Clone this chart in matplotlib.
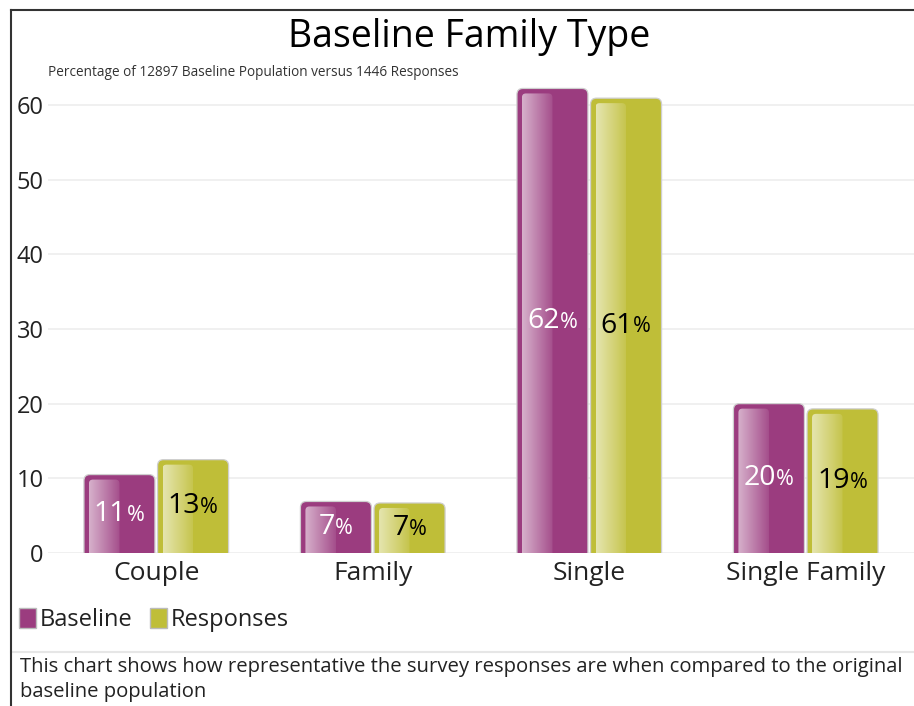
import numpy as np
import matplotlib
matplotlib.use("Agg")
import matplotlib.pyplot as plt
from matplotlib.patches import FancyBboxPatch, Patch
from matplotlib.lines import Line2D

plt.rcParams['font.family'] = ['Open Sans', 'DejaVu Sans']

# -- data ---------------------------------------------------------------
categories = ["Couple", "Family", "Single", "Single Family"]
baseline = [10.5, 6.9, 62.2, 20.0]
responses = [12.5, 6.7, 60.9, 19.3]
baseline_labels = ["11", "7", "62", "20"]
responses_labels = ["13", "7", "61", "19"]
yticks = [0, 10, 20, 30, 40, 50, 60]

title = "Baseline Family Type"
subtitle = "Percentage of 12897 Baseline Population versus 1446 Responses"
footnote_lines = ["This chart shows how representative the survey responses are when compared to the original",
                  "baseline population"]

# -- style --------------------------------------------------------------
W, H = 914, 706
C_BASE = "#9b3c7f"
C_RESP = "#bfbe38"
TXT = "#222222"
GRID = "#eeeeee"

fig = plt.figure(figsize=(W / 100, H / 100), dpi=100, facecolor="white")

ax_l, ax_b, ax_w, ax_h = 48, 153, 866, 478
ax = fig.add_axes([ax_l / W, ax_b / H, ax_w / W, ax_h / H])
XLIM = (-0.5, 3.5)
YLIM = (0, 64)
ax.set_xlim(*XLIM)
ax.set_ylim(*YLIM)

# pixels per data unit, used for rounded corners and highlight insets
xppu = ax_w / (XLIM[1] - XLIM[0])
yppu = ax_h / (YLIM[1] - YLIM[0])

x = np.arange(len(categories))
bw = 0.328
off = 0.17

bars_b = ax.bar(x - off, baseline, width=bw, color=C_BASE, alpha=0)
bars_r = ax.bar(x + off, responses, width=bw, color=C_RESP, alpha=0)


def glossy(rect, color):
    """Ердийн bar-ыг бөөрөнхий булантай, гэрэлтсэн bar болгоно."""
    bx, bwid, bh = rect.get_x(), rect.get_width(), rect.get_height()
    rx = 6 / xppu
    ry = 6 / yppu
    body = FancyBboxPatch((bx, -ry), bwid, bh + ry,
                          boxstyle=f"round,pad=0,rounding_size={rx}",
                          mutation_aspect=ry / rx,
                          facecolor=color, edgecolor="#cfcfcf", lw=0.9, zorder=2)
    ax.add_patch(body)

    # зүүн талын гэрэлтэлт
    hx0 = bx + 5 / xppu
    hx1 = bx + bwid * 0.5
    htop = bh - 5 / yppu
    hrx = 4 / xppu
    hry = 4 / yppu
    clip = FancyBboxPatch((hx0, -hry), hx1 - hx0, htop + hry,
                          boxstyle=f"round,pad=0,rounding_size={hrx}",
                          mutation_aspect=hry / hrx,
                          facecolor="none", edgecolor="none",
                          transform=ax.transData)
    ax.add_patch(clip)
    grad = np.zeros((1, 64, 4))
    grad[..., :3] = 1.0
    grad[0, :, 3] = np.linspace(0.6, 0.1, 64)
    img = ax.imshow(grad, extent=(hx0, hx1, -1, htop), aspect="auto",
                    interpolation="bilinear", zorder=3)
    img.set_clip_path(clip)


for rect in bars_b:
    glossy(rect, C_BASE)
for rect in bars_r:
    glossy(rect, C_RESP)

ax.set_xlim(*XLIM)
ax.set_ylim(*YLIM)


def value_label(rect, num, color):
    cx = rect.get_x() + rect.get_width() / 2
    cy = rect.get_height() / 2
    num_w = 16 * len(num)
    pct_w = 18
    shift = (num_w - pct_w) / 2 * 0.72
    ax.annotate(num, (cx, cy), xytext=(shift, 0), textcoords="offset points",
                ha="right", va="center", fontsize=20.5, color=color, zorder=5)
    ax.annotate("%", (cx, cy), xytext=(shift, -1), textcoords="offset points",
                ha="left", va="center", fontsize=15.5, color=color, zorder=5)


for rect, lab in zip(bars_b, baseline_labels):
    value_label(rect, lab, "white")
for rect, lab in zip(bars_r, responses_labels):
    value_label(rect, lab, "black")

# axes cosmetics
ax.set_yticks(yticks)
ax.set_xticks(x)
ax.set_xticklabels(categories)
ax.tick_params(axis="y", length=0, pad=3, labelsize=17, labelcolor=TXT)
ax.tick_params(axis="x", length=0, pad=6, labelsize=19, labelcolor=TXT)
ax.grid(axis="y", color=GRID, lw=1.2, zorder=0)
ax.set_axisbelow(True)
for s in ax.spines.values():
    s.set_visible(False)

# titles
fig.text(469 / W, 1 - 37 / H, title, ha="center", va="center", fontsize=27, color="black")
fig.text(48 / W, 1 - 72 / H, subtitle, ha="left", va="center", fontsize=9.8, color="#333333")

# legend
handles = [Patch(facecolor=C_BASE, edgecolor="#bbbbbb", label="Baseline"),
           Patch(facecolor=C_RESP, edgecolor="#bbbbbb", label="Responses")]
fig.legend(handles=handles, loc="center left", bbox_to_anchor=(19 / W, 1 - 620 / H),
           ncol=2, frameon=False, fontsize=17, handlelength=0.72, handleheight=0.9,
           handletextpad=0.15, columnspacing=0.75, borderpad=0, borderaxespad=0,
           labelcolor=TXT)

# separator + footnote
fig.add_artist(Line2D([11 / W, 1], [1 - 652 / H, 1 - 652 / H], color="#e6e6e6", lw=1.5))
for i, line in enumerate(footnote_lines):
    fig.text(20 / W, 1 - (667 + 25 * i) / H, line, ha="left", va="center",
             fontsize=14.6, color=TXT)

# outer frame (left + top)
fig.add_artist(Line2D([11 / W, 11 / W], [0, 1 - 10 / H], color="#333333", lw=1.5))
fig.add_artist(Line2D([11 / W, 1], [1 - 10 / H, 1 - 10 / H], color="#333333", lw=1.5))

fig.savefig("out.png", dpi=100)
